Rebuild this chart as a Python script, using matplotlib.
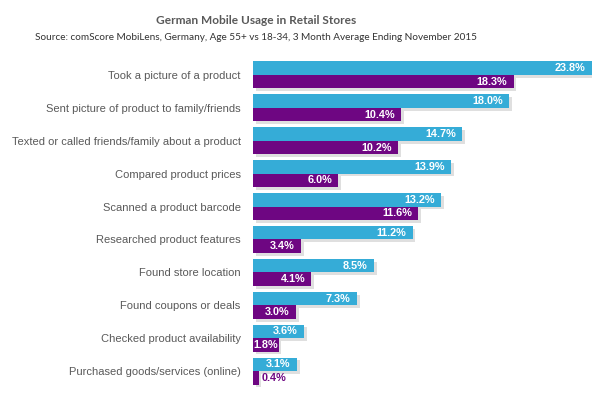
import numpy as np
import matplotlib
matplotlib.use('Agg')
from matplotlib import pyplot as plt
from matplotlib import patheffects as pe

categories = ['Took a picture of a product',
              'Sent picture of product to family/friends',
              'Texted or called friends/family about a product',
              'Compared product prices',
              'Scanned a product barcode',
              'Researched product features',
              'Found store location',
              'Found coupons or deals',
              'Checked product availability',
              'Purchased goods/services (online)']
age_18_34 = [23.8, 18.0, 14.7, 13.9, 13.2, 11.2, 8.5, 7.3, 3.6, 3.1]
age_55_plus = [18.3, 10.4, 10.2, 6.0, 11.6, 3.4, 4.1, 3.0, 1.8, 0.4]

blue = '#35acd7'
purple = '#6e0682'
grey = '#595959'

fig = plt.figure(figsize=(6, 3.97), dpi=100)
ax = fig.add_axes([0.4217, 0.0239, 0.565, 0.8287])

y = np.arange(len(categories))
h = 0.41
shadow = [pe.SimplePatchShadow(offset=(2, -2), shadow_rgbFace='#808080', alpha=0.25), pe.Normal()]
b1 = ax.barh(y - h / 2, age_18_34, height=h, color=blue)
b2 = ax.barh(y + h / 2, age_55_plus, height=h, color=purple)
for b in list(b1) + list(b2):
    b.set_path_effects(shadow)

lbl = dict(va='center', fontsize=7.8, fontweight='bold', family='Liberation Sans', clip_on=False)
for yi, v in zip(y, age_18_34):
    ax.text(v - 0.45, yi - h / 2, f'{v:.1f}%', ha='right', color='white', **lbl)
for yi, v in zip(y, age_55_plus):
    if v < 1:
        ax.text(v + 0.2, yi + h / 2, f'{v:.1f}%', ha='left', color=purple, **lbl)
    elif v < 2.2:
        ax.text(0, yi + h / 2, f'{v:.1f}%', ha='left', color='white', **lbl)
    else:
        ax.text(v - 0.45, yi + h / 2, f'{v:.1f}%', ha='right', color='white', **lbl)

ax.set_xlim(0, 23.8)
ax.set_ylim(len(categories) - 0.5, -0.5)
ax.set_yticks(y)
ax.set_yticklabels(categories, fontsize=8, color=grey, family='Liberation Sans')
ax.tick_params(axis='y', length=0, pad=9)
ax.set_xticks([])
for s in ax.spines.values():
    s.set_visible(False)

fig.text(256 / 600, 1 - 20 / 397, 'German Mobile Usage in Retail Stores', ha='center', va='center',
         fontsize=8.6, fontweight='bold', color=grey, family='Lato')
fig.text(256 / 600, 1 - 37 / 397, 'Source: comScore MobiLens, Germany, Age 55+ vs 18-34, 3 Month Average Ending November 2015',
         ha='center', va='center', fontsize=7.2, color='#333333', family='Lato')

fig.savefig('out.png', dpi=100)
